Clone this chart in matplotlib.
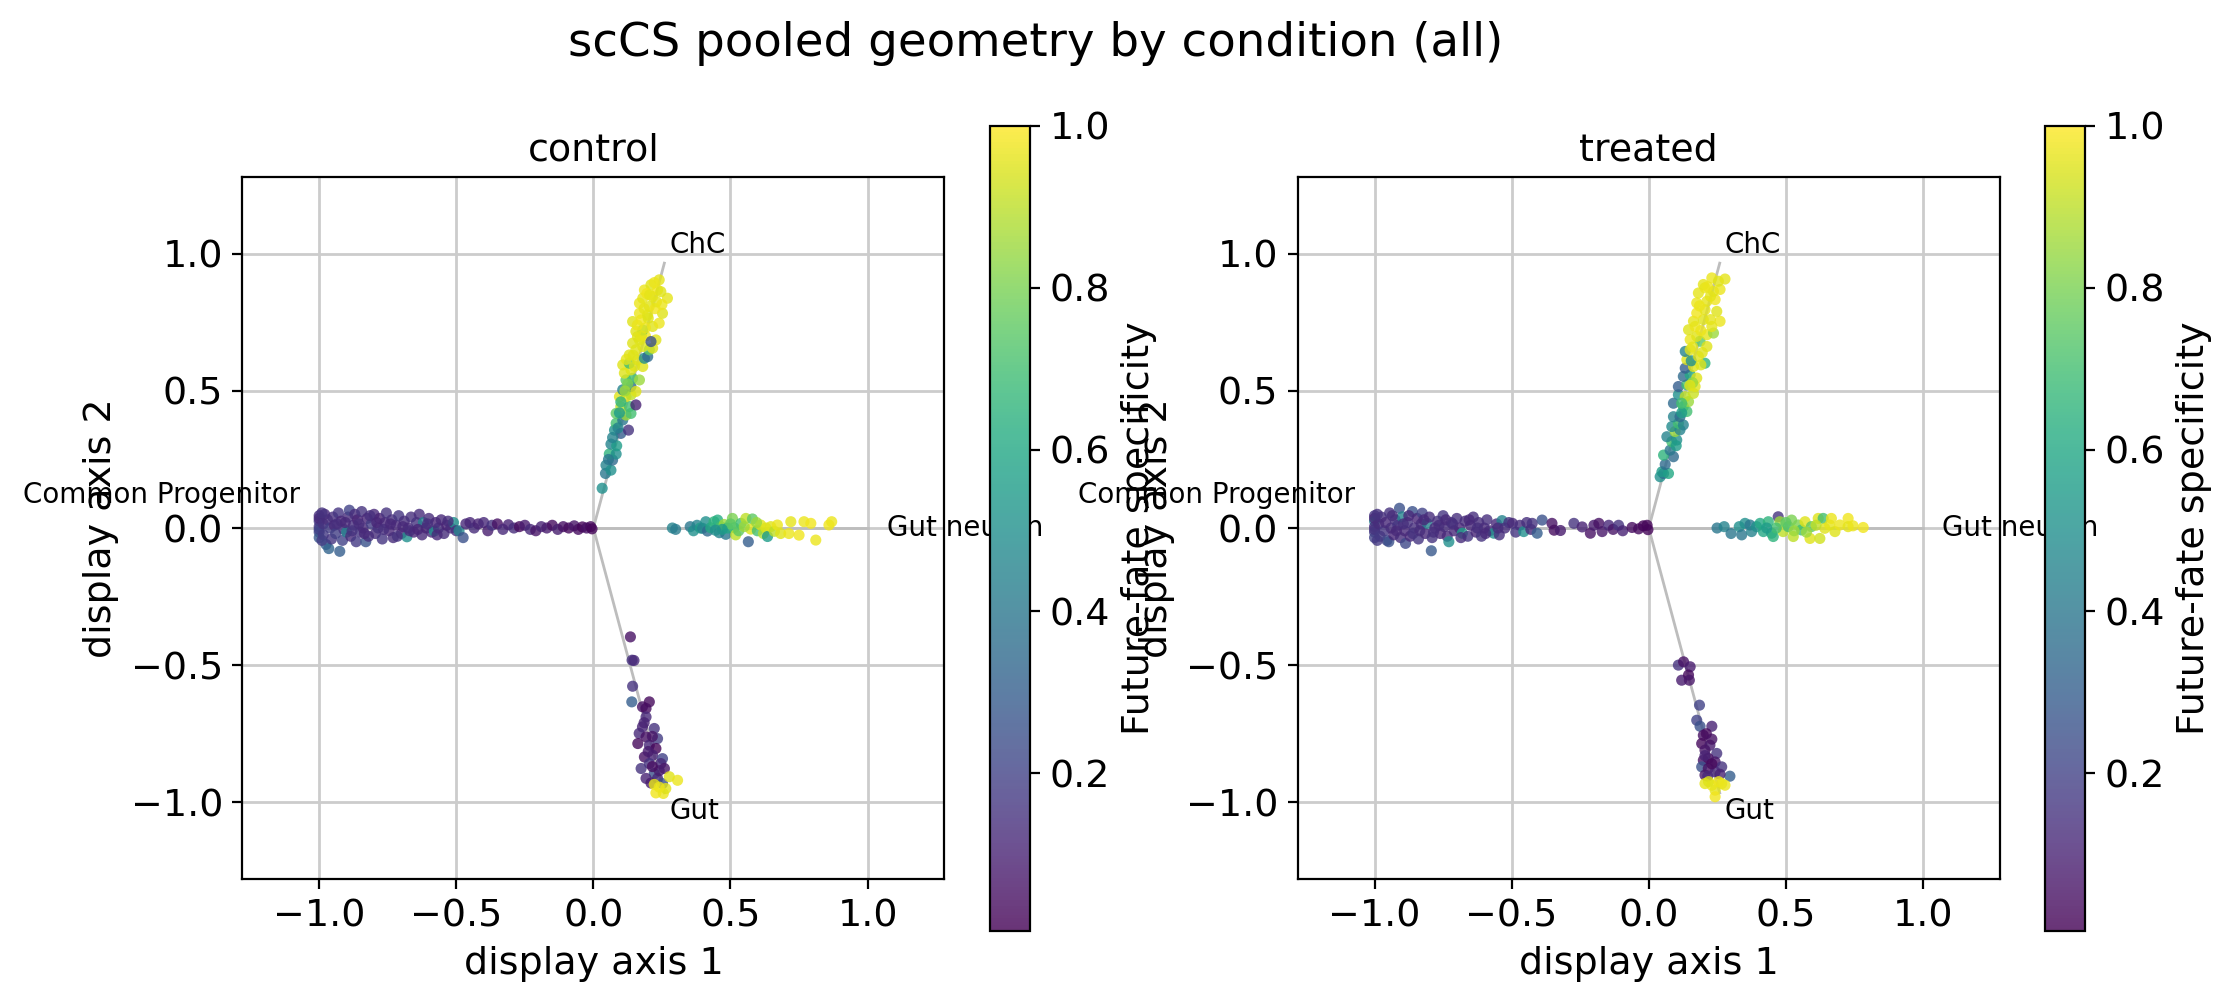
import numpy as np
import matplotlib
matplotlib.use("Agg")
import matplotlib.pyplot as plt
from matplotlib.colors import Normalize

# fate anchors of the display geometry
anchor_labels = ["Common Progenitor", "ChC", "Gut neuron", "Gut"]
anchor_x = [-1.0, 0.2588, 1.0, 0.2588]
anchor_y = [0.0, 0.9659, 0.0, -0.9659]
label_dy = [0.12, 0.0, 0.0, 0.0]

# control cells (x, y, future-fate specificity), one list per arm
ctrl_prog = [
    (-1.00, 0.045, 0.14), (-1.00, 0.025, 0.18), (-1.00, 0.005, 0.16), (-1.00, -0.015, 0.22),
    (-1.00, -0.035, 0.28), (-1.00, 0.035, 0.12), (-1.00, -0.005, 0.20),
    (-0.985, 0.015, 0.15), (-0.985, -0.025, 0.17), (-0.98, 0.05, 0.12), (-0.975, -0.06, 0.30),
    (-0.97, 0.03, 0.13), (-0.965, -0.075, 0.32), (-0.96, 0.0, 0.18), (-0.955, -0.04, 0.16),
    (-0.95, 0.04, 0.14), (-0.945, 0.01, 0.12), (-0.94, -0.02, 0.19), (-0.93, 0.055, 0.16),
    (-0.925, -0.085, 0.30), (-0.92, 0.025, 0.11), (-0.915, -0.045, 0.20), (-0.91, -0.005, 0.15),
    (-0.90, -0.015, 0.45), (-0.895, 0.04, 0.13), (-0.89, 0.065, 0.20), (-0.885, -0.03, 0.12),
    (-0.875, 0.01, 0.14), (-0.87, 0.05, 0.13), (-0.865, -0.05, 0.17), (-0.86, 0.03, 0.10),
    (-0.85, -0.015, 0.16), (-0.845, 0.06, 0.15), (-0.84, 0.0, 0.12), (-0.83, -0.05, 0.26),
    (-0.825, 0.035, 0.11), (-0.82, -0.03, 0.14), (-0.81, 0.015, 0.18), (-0.80, 0.05, 0.12),
    (-0.795, -0.02, 0.13), (-0.785, 0.0, 0.15), (-0.78, 0.035, 0.10), (-0.77, -0.04, 0.16),
    (-0.76, 0.02, 0.12), (-0.755, 0.055, 0.15), (-0.745, -0.01, 0.11), (-0.735, 0.03, 0.14),
    (-0.73, -0.035, 0.13), (-0.72, 0.01, 0.12), (-0.71, 0.045, 0.16), (-0.70, -0.02, 0.10),
    (-0.69, 0.025, 0.13), (-0.68, -0.032, 0.50), (-0.675, 0.0, 0.12), (-0.665, 0.04, 0.14),
    (-0.655, -0.015, 0.11), (-0.645, 0.02, 0.15), (-0.635, 0.05, 0.13), (-0.625, -0.025, 0.12),
    (-0.62, 0.02, 0.45), (-0.61, 0.0, 0.10), (-0.60, 0.035, 0.13), (-0.59, -0.015, 0.12),
    (-0.58, -0.011, 0.50), (-0.575, 0.02, 0.11), (-0.565, 0.0, 0.14), (-0.555, 0.03, 0.12),
    (-0.545, -0.02, 0.13), (-0.535, 0.01, 0.10), (-0.52, 0.0, 0.12), (-0.51, 0.02, 0.50),
    (-0.50, -0.01, 0.14), (-0.49, -0.01, 0.45), (-0.475, -0.035, 0.25), (-0.465, 0.015, 0.12),
    (-0.45, 0.02, 0.11), (-0.435, 0.0, 0.13), (-0.42, 0.015, 0.10), (-0.40, 0.02, 0.12),
    (-0.385, -0.01, 0.09), (-0.37, 0.01, 0.15), (-0.35, 0.015, 0.05), (-0.33, -0.005, 0.12),
    (-0.31, 0.012, 0.10), (-0.29, 0.0, 0.13), (-0.27, 0.005, 0.03), (-0.25, 0.01, 0.08),
    (-0.23, -0.005, 0.12), (-0.21, -0.01, 0.06), (-0.19, 0.005, 0.10), (-0.17, 0.0, 0.08),
    (-0.15, 0.01, 0.04), (-0.13, -0.005, 0.09), (-0.11, 0.005, 0.05), (-0.09, 0.0, 0.03),
    (-0.07, 0.008, 0.06), (-0.055, -0.005, 0.04), (-0.04, 0.004, 0.02), (-0.025, 0.0, 0.05),
    (-0.01, 0.005, 0.03), (-0.005, -0.003, 0.02),
    (-0.99, 0.055, 0.15), (-0.99, -0.045, 0.18), (-0.935, 0.015, 0.14), (-0.905, 0.02, 0.12),
    (-0.88, -0.01, 0.15), (-0.855, 0.015, 0.13), (-0.835, -0.02, 0.12), (-0.815, 0.045, 0.14),
    (-0.79, 0.02, 0.11), (-0.765, -0.005, 0.14), (-0.74, 0.015, 0.12), (-0.715, -0.03, 0.15),
    (-0.695, 0.005, 0.12), (-0.67, -0.01, 0.13), (-0.64, -0.005, 0.11), (-0.605, 0.015, 0.14),
    (-0.57, -0.025, 0.12), (-0.53, 0.025, 0.13),
]
ctrl_chc = [
    (0.032, 0.145, 0.50), (0.044, 0.199, 0.40), (0.046, 0.229, 0.45), (0.064, 0.211, 0.50),
    (0.070, 0.248, 0.35), (0.058, 0.270, 0.65), (0.083, 0.270, 0.50), (0.064, 0.306, 0.45),
    (0.085, 0.300, 0.55), (0.077, 0.357, 0.50), (0.100, 0.345, 0.30), (0.128, 0.357, 0.15),
    (0.083, 0.382, 0.70), (0.107, 0.394, 0.40), (0.090, 0.365, 0.45), (0.083, 0.418, 0.75),
    (0.119, 0.412, 0.85), (0.137, 0.418, 0.70), (0.100, 0.443, 0.90), (0.131, 0.443, 0.70),
    (0.155, 0.449, 0.10), (0.095, 0.479, 0.95), (0.119, 0.479, 0.95), (0.137, 0.486, 0.90),
    (0.107, 0.504, 0.45), (0.137, 0.516, 0.35), (0.155, 0.498, 0.95), (0.119, 0.540, 0.75),
    (0.143, 0.546, 0.70), (0.168, 0.540, 0.85), (0.113, 0.565, 0.95), (0.137, 0.577, 0.95),
    (0.180, 0.589, 0.95), (0.107, 0.595, 0.95), (0.131, 0.601, 0.70), (0.161, 0.613, 0.95),
    (0.186, 0.619, 0.50), (0.198, 0.625, 0.35), (0.204, 0.650, 0.75), (0.131, 0.631, 0.95),
    (0.155, 0.650, 0.95), (0.180, 0.662, 0.95), (0.143, 0.674, 0.95), (0.168, 0.686, 0.95),
    (0.216, 0.656, 0.95), (0.161, 0.698, 0.95), (0.228, 0.686, 0.95), (0.190, 0.700, 0.98),
    (0.210, 0.680, 0.25), (0.180, 0.722, 0.75), (0.155, 0.717, 0.95), (0.216, 0.735, 0.95),
    (0.240, 0.747, 0.97), (0.143, 0.753, 0.95), (0.174, 0.759, 0.98), (0.200, 0.765, 0.95),
    (0.168, 0.783, 0.97), (0.198, 0.777, 0.95), (0.252, 0.783, 0.95), (0.168, 0.820, 0.97),
    (0.204, 0.808, 0.95), (0.225, 0.800, 0.98), (0.180, 0.838, 0.96), (0.216, 0.844, 0.95),
    (0.270, 0.838, 0.96), (0.186, 0.868, 0.97), (0.210, 0.887, 0.95), (0.234, 0.868, 0.98),
    (0.246, 0.862, 0.95), (0.240, 0.905, 0.96), (0.222, 0.895, 0.97), (0.195, 0.855, 0.98),
    (0.230, 0.825, 0.96), (0.185, 0.800, 0.96), (0.160, 0.740, 0.97), (0.125, 0.525, 0.80),
    (0.100, 0.460, 0.65), (0.095, 0.420, 0.55), (0.070, 0.330, 0.45), (0.055, 0.250, 0.40),
    (0.120, 0.615, 0.96), (0.150, 0.590, 0.95), (0.190, 0.730, 0.97), (0.205, 0.850, 0.96),
    (0.115, 0.500, 0.85), (0.145, 0.630, 0.95), (0.175, 0.700, 0.96), (0.250, 0.815, 0.97),
]
ctrl_gn = [
    (0.288, 0.0, 0.45), (0.300, -0.005, 0.42), (0.353, 0.005, 0.40), (0.365, -0.01, 0.50),
    (0.378, 0.01, 0.45), (0.390, 0.0, 0.55), (0.398, -0.001, 0.45), (0.410, 0.023, 0.50),
    (0.416, -0.011, 0.35), (0.428, 0.001, 0.60), (0.440, 0.023, 0.65), (0.453, 0.029, 0.62),
    (0.459, -0.017, 0.45), (0.465, 0.005, 0.70), (0.477, 0.013, 0.85), (0.483, -0.023, 0.40),
    (0.490, 0.0, 0.60), (0.507, 0.035, 0.80), (0.513, 0.001, 0.70), (0.519, -0.025, 0.90),
    (0.530, -0.010, 0.75), (0.538, 0.017, 0.70), (0.556, 0.035, 0.90), (0.565, -0.050, 0.30),
    (0.580, 0.033, 0.75), (0.574, -0.004, 0.95), (0.550, 0.005, 0.85), (0.598, -0.010, 0.70),
    (0.610, 0.011, 0.95), (0.620, -0.020, 0.88), (0.629, 0.000, 0.95), (0.635, -0.031, 0.55),
    (0.647, 0.005, 0.95), (0.660, -0.012, 0.90), (0.671, 0.011, 0.97), (0.683, -0.020, 0.95),
    (0.713, -0.020, 0.97), (0.720, 0.023, 0.96), (0.750, -0.026, 0.98), (0.768, 0.023, 0.97),
    (0.793, 0.017, 0.98), (0.811, -0.044, 0.97), (0.859, 0.011, 0.98), (0.869, 0.023, 0.97),
    (0.595, 0.020, 0.85), (0.500, 0.015, 0.75), (0.470, -0.005, 0.55), (0.445, -0.008, 0.50),
]
ctrl_gut = [
    (0.135, -0.397, 0.05), (0.141, -0.482, 0.15), (0.148, -0.483, 0.12), (0.143, -0.577, 0.15),
    (0.140, -0.634, 0.30), (0.179, -0.652, 0.05), (0.204, -0.634, 0.03), (0.192, -0.658, 0.04),
    (0.192, -0.689, 0.12), (0.179, -0.725, 0.10), (0.222, -0.731, 0.15), (0.167, -0.749, 0.12),
    (0.192, -0.762, 0.05), (0.234, -0.768, 0.18), (0.162, -0.786, 0.03), (0.204, -0.792, 0.12),
    (0.228, -0.804, 0.02), (0.186, -0.835, 0.05), (0.216, -0.829, 0.10), (0.252, -0.841, 0.20),
    (0.204, -0.859, 0.15), (0.246, -0.859, 0.12), (0.174, -0.877, 0.15), (0.222, -0.895, 0.25),
    (0.259, -0.877, 0.06), (0.192, -0.913, 0.10), (0.234, -0.913, 0.12), (0.252, -0.932, 0.25),
    (0.210, -0.930, 0.08), (0.200, -0.815, 0.08), (0.215, -0.760, 0.06), (0.185, -0.710, 0.10),
    (0.240, -0.885, 0.08), (0.215, -0.870, 0.04),
    (0.277, -0.907, 0.95), (0.307, -0.920, 0.97), (0.222, -0.935, 0.96), (0.228, -0.966, 0.98),
    (0.255, -0.968, 0.97), (0.264, -0.950, 0.95), (0.240, -0.945, 0.97),
]

# treated cells
trt_prog = [
    (-1.00, 0.045, 0.16), (-1.00, 0.025, 0.45), (-1.00, 0.005, 0.14), (-1.00, -0.015, 0.18),
    (-1.00, -0.035, 0.20), (-1.00, 0.035, 0.12), (-1.00, -0.005, 0.15),
    (-0.985, 0.015, 0.13), (-0.98, -0.03, 0.17), (-0.975, 0.04, 0.14), (-0.965, -0.01, 0.16),
    (-0.96, 0.02, 0.12), (-0.955, -0.045, 0.20), (-0.948, -0.05, 0.25), (-0.945, 0.055, 0.15),
    (-0.94, 0.0, 0.13), (-0.93, -0.025, 0.11), (-0.925, 0.03, 0.14), (-0.915, 0.01, 0.16),
    (-0.909, 0.072, 0.25), (-0.905, -0.035, 0.13), (-0.899, 0.041, 0.45), (-0.89, -0.01, 0.12),
    (-0.887, -0.056, 0.22), (-0.88, 0.02, 0.15), (-0.87, -0.03, 0.12), (-0.862, 0.060, 0.25),
    (-0.855, 0.0, 0.14), (-0.845, 0.035, 0.11), (-0.84, -0.04, 0.16), (-0.83, 0.015, 0.13),
    (-0.826, 0.054, 0.20), (-0.815, -0.02, 0.12), (-0.808, 0.017, 0.45), (-0.80, 0.04, 0.13),
    (-0.793, -0.083, 0.28), (-0.79, -0.035, 0.15), (-0.78, 0.0, 0.12), (-0.77, 0.025, 0.14),
    (-0.76, -0.02, 0.11), (-0.75, 0.045, 0.16), (-0.745, 0.005, 0.13), (-0.735, -0.03, 0.12),
    (-0.729, -0.050, 0.50), (-0.72, 0.02, 0.15), (-0.71, -0.01, 0.12), (-0.70, 0.035, 0.14),
    (-0.69, 0.0, 0.11), (-0.68, -0.019, 0.55), (-0.67, 0.025, 0.13), (-0.66, -0.03, 0.16),
    (-0.65, 0.01, 0.12), (-0.64, 0.04, 0.14), (-0.63, -0.015, 0.11), (-0.62, 0.02, 0.13),
    (-0.61, -0.03, 0.15), (-0.60, 0.0, 0.12), (-0.59, 0.03, 0.14), (-0.58, -0.01, 0.13),
    (-0.565, -0.019, 0.50), (-0.555, 0.015, 0.12), (-0.545, -0.025, 0.14), (-0.535, 0.027, 0.45),
    (-0.525, 0.0, 0.13), (-0.51, 0.02, 0.15), (-0.497, 0.017, 0.12), (-0.485, -0.015, 0.16),
    (-0.47, 0.01, 0.13), (-0.456, -0.013, 0.50), (-0.445, 0.02, 0.14), (-0.43, -0.005, 0.12),
    (-0.425, 0.017, 0.15), (-0.407, -0.019, 0.30), (-0.389, 0.029, 0.25), (-0.353, 0.017, 0.05),
    (-0.345, -0.008, 0.04), (-0.322, -0.009, 0.08), (-0.273, 0.017, 0.15), (-0.243, 0.004, 0.10),
    (-0.213, -0.019, 0.05), (-0.20, 0.01, 0.08), (-0.182, 0.017, 0.05), (-0.17, -0.013, 0.07),
    (-0.146, 0.010, 0.12), (-0.130, -0.005, 0.06), (-0.110, 0.010, 0.15), (-0.095, -0.01, 0.10),
    (-0.061, 0.002, 0.04), (-0.037, -0.003, 0.03), (-0.02, 0.008, 0.02), (-0.006, 0.010, 0.02),
    (-0.003, -0.006, 0.02),
    (-0.99, 0.05, 0.15), (-0.99, -0.045, 0.17), (-0.935, 0.045, 0.13), (-0.92, -0.01, 0.12),
    (-0.895, 0.015, 0.14), (-0.875, 0.045, 0.12), (-0.86, -0.02, 0.15), (-0.835, -0.01, 0.13),
    (-0.82, 0.03, 0.12), (-0.785, -0.015, 0.14), (-0.765, 0.01, 0.13), (-0.74, 0.03, 0.12),
    (-0.715, 0.015, 0.14), (-0.685, -0.035, 0.13), (-0.655, 0.03, 0.12), (-0.625, 0.0, 0.14),
    (-0.595, -0.02, 0.12), (-0.55, 0.0, 0.13),
]
trt_chc = [
    (0.0415, 0.187, 0.50), (0.054, 0.199, 0.35), (0.072, 0.199, 0.60), (0.048, 0.205, 0.55),
    (0.060, 0.232, 0.35), (0.090, 0.260, 0.35), (0.054, 0.266, 0.65), (0.078, 0.284, 0.40),
    (0.084, 0.315, 0.70), (0.102, 0.321, 0.50), (0.066, 0.333, 0.45), (0.096, 0.352, 0.85),
    (0.114, 0.358, 0.45), (0.084, 0.370, 0.48), (0.108, 0.382, 0.70), (0.126, 0.376, 0.45),
    (0.090, 0.406, 0.45), (0.114, 0.406, 0.35), (0.139, 0.425, 0.70), (0.090, 0.455, 0.35),
    (0.126, 0.443, 0.70), (0.145, 0.461, 0.85), (0.108, 0.486, 0.50), (0.133, 0.479, 0.90),
    (0.163, 0.491, 0.92), (0.108, 0.516, 0.30), (0.139, 0.522, 0.70), (0.169, 0.516, 0.95),
    (0.126, 0.553, 0.35), (0.151, 0.559, 0.60), (0.175, 0.547, 0.95), (0.133, 0.583, 0.30),
    (0.163, 0.589, 0.95), (0.205, 0.601, 0.65), (0.139, 0.614, 0.95), (0.155, 0.610, 0.50),
    (0.181, 0.626, 0.95), (0.133, 0.644, 0.45), (0.151, 0.650, 0.95), (0.187, 0.681, 0.75),
    (0.212, 0.662, 0.95), (0.151, 0.687, 0.97), (0.175, 0.699, 0.95), (0.212, 0.705, 0.96),
    (0.145, 0.723, 0.95), (0.169, 0.735, 0.97), (0.236, 0.711, 0.85), (0.163, 0.754, 0.96),
    (0.199, 0.760, 0.95), (0.260, 0.754, 0.97), (0.175, 0.784, 0.98), (0.205, 0.796, 0.96),
    (0.248, 0.790, 0.95), (0.175, 0.821, 0.97), (0.212, 0.827, 0.96), (0.242, 0.833, 0.98),
    (0.181, 0.857, 0.96), (0.205, 0.876, 0.97), (0.236, 0.863, 0.95), (0.260, 0.870, 0.97),
    (0.199, 0.888, 0.96), (0.230, 0.912, 0.97), (0.254, 0.900, 0.95), (0.278, 0.908, 0.96),
    (0.190, 0.720, 0.97), (0.225, 0.760, 0.96), (0.195, 0.640, 0.95), (0.160, 0.530, 0.85),
    (0.120, 0.420, 0.55), (0.100, 0.300, 0.55),
    (0.160, 0.660, 0.96), (0.185, 0.810, 0.97), (0.225, 0.845, 0.96), (0.190, 0.595, 0.95),
    (0.120, 0.455, 0.70), (0.150, 0.520, 0.95), (0.215, 0.880, 0.97), (0.230, 0.735, 0.96),
]
trt_gn = [
    (0.249, 0.0, 0.40), (0.275, 0.005, 0.45), (0.300, -0.02, 0.40), (0.330, 0.005, 0.50),
    (0.339, -0.025, 0.40), (0.351, 0.017, 0.50), (0.369, 0.011, 0.40), (0.375, -0.013, 0.45),
    (0.393, 0.005, 0.50), (0.406, 0.017, 0.60), (0.418, -0.013, 0.60), (0.436, 0.023, 0.65),
    (0.448, -0.019, 0.55), (0.454, -0.031, 0.65), (0.472, 0.041, 0.15), (0.478, 0.023, 0.85),
    (0.490, -0.013, 0.90), (0.509, 0.005, 0.70), (0.521, 0.029, 0.80), (0.527, -0.031, 0.90),
    (0.545, 0.011, 0.80), (0.557, -0.007, 0.70), (0.570, 0.023, 0.95), (0.588, -0.038, 0.95),
    (0.593, 0.005, 0.75), (0.618, 0.035, 0.95), (0.624, -0.038, 0.93), (0.636, 0.035, 0.70),
    (0.642, -0.001, 0.95), (0.660, 0.011, 0.96), (0.666, 0.035, 0.97), (0.679, -0.013, 0.95),
    (0.697, 0.011, 0.97), (0.727, 0.035, 0.98), (0.727, 0.005, 0.96), (0.745, 0.008, 0.97),
    (0.782, 0.002, 0.98), (0.500, 0.020, 0.75), (0.530, -0.010, 0.85), (0.610, 0.010, 0.90),
    (0.465, 0.0, 0.70), (0.430, 0.0, 0.55), (0.575, -0.015, 0.85),
]
trt_gut = [
    (0.108, -0.500, 0.15), (0.127, -0.488, 0.05), (0.151, -0.506, 0.08), (0.120, -0.555, 0.08),
    (0.145, -0.536, 0.03), (0.148, -0.555, 0.06), (0.185, -0.646, 0.20), (0.175, -0.701, 0.20),
    (0.187, -0.723, 0.25), (0.230, -0.723, 0.10), (0.199, -0.756, 0.05), (0.210, -0.750, 0.03),
    (0.193, -0.786, 0.03), (0.223, -0.792, 0.08), (0.205, -0.810, 0.06), (0.248, -0.822, 0.15),
    (0.217, -0.840, 0.04), (0.199, -0.847, 0.05), (0.242, -0.853, 0.06), (0.266, -0.871, 0.15),
    (0.193, -0.871, 0.25), (0.217, -0.877, 0.05), (0.242, -0.889, 0.12), (0.296, -0.905, 0.30),
    (0.205, -0.901, 0.07), (0.260, -0.898, 0.10), (0.230, -0.770, 0.05), (0.205, -0.830, 0.10),
    (0.230, -0.860, 0.03), (0.215, -0.905, 0.12),
    (0.205, -0.932, 0.96), (0.230, -0.938, 0.97), (0.266, -0.932, 0.95), (0.278, -0.938, 0.97),
    (0.242, -0.956, 0.96), (0.242, -0.980, 0.98), (0.218, -0.925, 0.95), (0.255, -0.925, 0.97),
]

conditions = ["control", "treated"]
cells = {
    "control": ctrl_prog + ctrl_chc + ctrl_gn + ctrl_gut,
    "treated": trt_prog + trt_chc + trt_gn + trt_gut,
}

fig = plt.figure(figsize=(11.175, 5.035), dpi=200)
fig.text(0.4633, 0.957, "scCS pooled geometry by condition (all)", fontsize=16.8,
         ha="center", va="center")

ax_pos = [[0.1081, 0.1271, 0.3148, 0.6971], [0.5803, 0.1271, 0.3148, 0.6971]]
cb_pos = [[0.4430, 0.0755, 0.0179, 0.7994], [0.9150, 0.0755, 0.0179, 0.7994]]
norm = Normalize(vmin=0.005, vmax=1.0)

for i, cond in enumerate(conditions):
    ax = fig.add_axes(ax_pos[i])
    pts = np.array(cells[cond])
    for lab, x, y, dy in zip(anchor_labels, anchor_x, anchor_y, label_dy):
        ax.plot([0, x], [0, y], color="#bdbdbd", lw=1.0, zorder=1)
        ax.text(x * 1.07, y * 1.07 + dy, lab, fontsize=10,
                ha="left" if x > 0 else "right", va="center")
    sc = ax.scatter(pts[:, 0], pts[:, 1], c=pts[:, 2], cmap="viridis", norm=norm,
                    s=16, alpha=0.8, linewidths=0, zorder=2)
    ax.set_xlim(-1.28, 1.28)
    ax.set_ylim(-1.28, 1.28)
    ax.set_aspect("equal")
    ax.set_axisbelow(True)
    ax.grid(True, color="#cccccc", lw=1.0)
    ax.set_xticks([-1.0, -0.5, 0.0, 0.5, 1.0])
    ax.set_yticks([-1.0, -0.5, 0.0, 0.5, 1.0])
    ax.tick_params(labelsize=13.7)
    ax.set_title(cond, fontsize=13.7)
    ax.set_xlabel("display axis 1", fontsize=13.7)
    ax.set_ylabel("display axis 2", fontsize=13.7)

    cax = fig.add_axes(cb_pos[i])
    cb = fig.colorbar(sc, cax=cax)
    cb.set_ticks([0.2, 0.4, 0.6, 0.8, 1.0])
    cb.ax.tick_params(labelsize=13.7)
    cb.set_label("Future-fate specificity", fontsize=13.7)

fig.savefig("out.png", dpi=200)
